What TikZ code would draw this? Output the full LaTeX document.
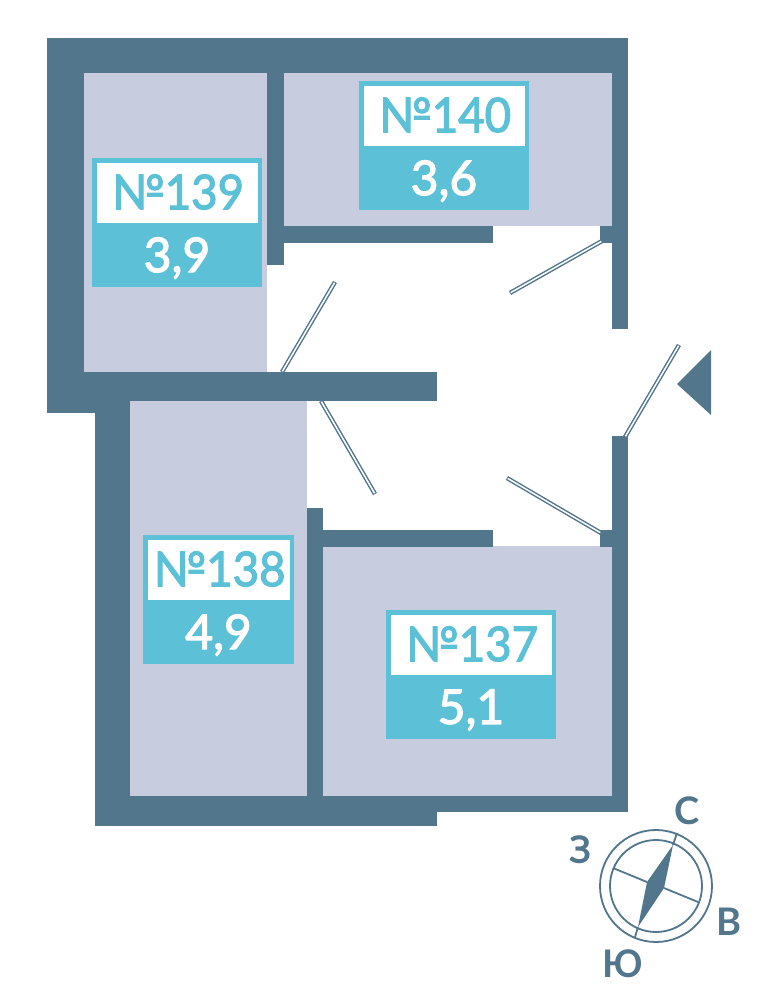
\documentclass[tikz,border=0pt]{standalone}
\usepackage{fontspec}
\setmainfont{Lato}
\newfontfamily\numfont[FakeBold=2.4,FakeStretch=0.95]{Lato}
\newfontfamily\valfont[FakeBold=2.4]{Lato}
\definecolor{wall}{HTML}{52768C}
\definecolor{room}{HTML}{C7CDDE}
\definecolor{cyanb}{HTML}{5CC1D7}
\tikzset{
  wallp/.style={fill=wall,draw=none},
  roomp/.style={fill=room,draw=none},
  doorp/.style={draw=wall,line width=4.4pt,postaction={draw=white,line width=1.5pt,shorten >=0.8pt,shorten <=0.8pt}},
  numt/.style={text=cyanb,font=\numfont\fontsize{48}{48}\selectfont,inner sep=0pt,anchor=center},
  valt/.style={text=white,font=\valfont\fontsize{48}{48}\selectfont,inner sep=0pt,anchor=center},
  dirt/.style={text=wall,font=\bfseries\fontsize{38}{38}\selectfont,inner sep=0pt,anchor=center},
  comp/.style={draw=wall,line width=1.8pt}
}
\newcommand{\tagbox}[6]{% id x0 x1 y0 number value
  \fill[cyanb] (#2,#4) rectangle (#3,#4+129);
  \fill[white] (#2+4.5,#4+5) rectangle (#3-4.5,#4+65);
  \node[numt] (n#1) at ({(#2+#3)/2+1},#4+34) {№#5};
  \node[valt] (v#1) at ({(#2+#3)/2},#4+100) {#6};
}
\begin{document}
\begin{tikzpicture}[x=1pt,y=-1pt]
\useasboundingbox (0,0) rectangle (758,996);
\fill[white] (0,0) rectangle (758,996);
% rooms
\fill[roomp] (84,73) rectangle (267,372);
\fill[roomp] (284,73) rectangle (612,226);
\fill[roomp] (130,401) rectangle (307,796);
\fill[roomp] (323,546) rectangle (612,796);
% walls
\fill[wallp] (47,38) rectangle (628,73);
\fill[wallp] (47,38) rectangle (84,413);
\fill[wallp] (47,372) rectangle (437,401);
\fill[wallp] (47,401) rectangle (130,413);
\fill[wallp] (95,401) rectangle (130,826);
\fill[wallp] (95,796) rectangle (628,812);
\fill[wallp] (95,812) rectangle (437,826);
\fill[wallp] (612,38) rectangle (628,329);
\fill[wallp] (612,436) rectangle (628,812);
\fill[wallp] (267,73) rectangle (284,265);
\fill[wallp] (284,226) rectangle (493,243);
\fill[wallp] (600,226) rectangle (628,243);
\fill[wallp] (307,508) rectangle (323,796);
\fill[wallp] (323,530) rectangle (493,547);
\fill[wallp] (600,530) rectangle (628,547);
% doors
\draw[doorp] (602,241) -- (510,293);
\draw[doorp] (625,437) -- (679,345);
\draw[doorp] (601,533) -- (507,478);
\draw[doorp] (282,372) -- (335,282);
\draw[doorp] (321,401) -- (375,494);
% entrance mark
\fill[wall] (677,384) -- (711,350) -- (711,415) -- cycle;
% labels
\tagbox{139}{92}{262}{158}{139}{3,9}
\tagbox{140}{359}{529}{81}{140}{3,6}
\tagbox{138}{143}{294}{535}{138}{4,9}
\tagbox{137}{386}{556}{610}{137}{5,1}
% compass
\coordinate (cc) at (656,886);
\draw[comp] (cc) circle (56);
\draw[comp] (cc) circle (46);
\coordinate (tipn) at (673,845);
\coordinate (tips) at (638,927);
\coordinate (sw) at (647,882);
\coordinate (se) at (664,888);
\fill[wall] (tipn) -- (se) -- (tips) -- (sw) -- cycle;
\draw[comp] (tipn) -- (677,833);
\draw[comp] (tips) -- (635,937);
\draw[comp] (613,868) -- (sw);
\draw[comp] (se) -- (698,902);
\node[dirt] (dn) at (687,811) {С};
\node[dirt] (dw) at (581,850) {З};
\node[dirt] (de) at (729,922) {В};
\node[dirt] (ds) at (623,964) {Ю};
\end{tikzpicture}
\end{document}
